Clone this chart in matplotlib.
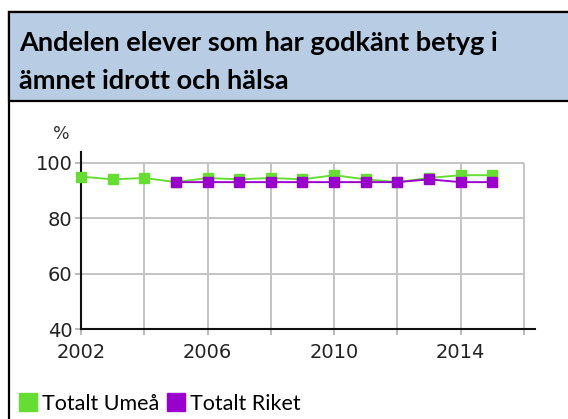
import matplotlib
matplotlib.use("Agg")
import matplotlib.pyplot as plt
from matplotlib.patches import Rectangle
from matplotlib.lines import Line2D

title = "Andelen elever som har godkänt betyg i\nämnet idrott och hälsa"

years_umea = [2002, 2003, 2004, 2005, 2006, 2007, 2008, 2009, 2010, 2011, 2012, 2013, 2014, 2015]
umea = [95, 94, 94.5, 93, 94.5, 94, 94.5, 94, 95.5, 94, 93, 94.5, 95.5, 95.5]

years_riket = [2005, 2006, 2007, 2008, 2009, 2010, 2011, 2012, 2013, 2014, 2015]
riket = [93, 93, 93, 93, 93, 93, 93, 93, 94, 93, 93]

series_names = ["Totalt Umeå", "Totalt Riket"]
colors = ["#66dd33", "#9900cc"]

xticks = [2002, 2006, 2010, 2014]
yticks = [40, 60, 80, 100]

W, H = 568, 419
fig = plt.figure(figsize=(W / 100, H / 100), dpi=100)

# frame + title box
fig.patches.append(Rectangle((9 / W, -0.1), 1.0, 1 - 12 / H + 0.1, transform=fig.transFigure,
                             facecolor="white", edgecolor="black", lw=1.6, zorder=-2))
fig.patches.append(Rectangle((9 / W, 1 - 101 / H), 1.0, (101 - 12) / H, transform=fig.transFigure,
                             facecolor="#b8cce4", edgecolor="black", lw=1.6, zorder=-1))
fig.text(19 / W, 1 - 31 / H, title, ha="left", va="top", fontsize=19.5, fontweight="bold",
         family="Lato", color="black", linespacing=1.68)

ax = fig.add_axes([81 / W, 1 - 329.3 / H, (535 - 81) / W, (329.3 - 151.6) / H])
ax.set_xlim(2002, 2016.35)
ax.set_ylim(40, 104)
ax.patch.set_alpha(0)

# grid restricted to the box 2002-2016 x 40-100
for y in yticks:
    ax.plot([2002, 2016], [y, y], color="#c4c4c4", lw=1.4, zorder=1, solid_capstyle="butt")
for x in range(2004, 2017, 2):
    ax.plot([x, x], [40, 100], color="#c4c4c4", lw=1.4, zorder=1, solid_capstyle="butt")

ax.plot(years_umea, umea, color=colors[0], lw=1.4, marker="s", ms=7.5, zorder=3, clip_on=False)
ax.plot(years_riket, riket, color=colors[1], lw=1.4, marker="s", ms=7.5, zorder=4, clip_on=False)

for s in ["top", "right"]:
    ax.spines[s].set_visible(False)
for s in ["left", "bottom"]:
    ax.spines[s].set_linewidth(1.5)
    ax.spines[s].set_color("#111111")

ax.set_xticks(range(2002, 2017, 2))
ax.set_xticklabels([str(x) if x in xticks else "" for x in range(2002, 2017, 2)])
ax.set_yticks(yticks)
ax.tick_params(axis="both", colors="#bbbbbb", length=4, width=1.4, labelcolor="#222222",
               labelsize=14)
ax.tick_params(axis="y", pad=2)
ax.tick_params(axis="x", pad=6)

fig.text(61 / W, 1 - 134 / H, "%", ha="center", va="center", fontsize=12.5, color="#333333")

handles = [Line2D([], [], ls="none", marker="s", ms=12.5, color=c) for c in colors]
fig.legend(handles, series_names, loc="center left", bbox_to_anchor=(20 / W, 1 - 404 / H),
           ncol=2, frameon=False, prop={"family": "Lato", "size": 15.5}, handlelength=0.7,
           handletextpad=0.3, columnspacing=0.45, borderpad=0, borderaxespad=0)

fig.savefig("out.png", dpi=100)
